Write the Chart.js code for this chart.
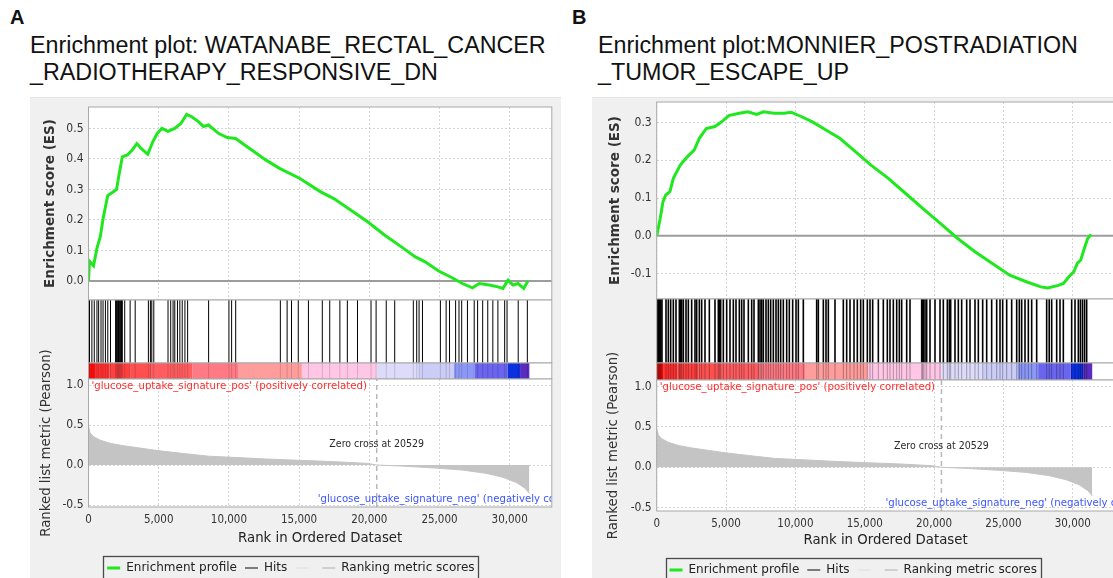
<!DOCTYPE html>
<html>
<head>
<meta charset="utf-8">
<title>Enrichment plots</title>
<script src="https://cdn.jsdelivr.net/npm/chart.js@4.4.1/dist/chart.umd.min.js"></script>
<style>
  html, body { margin: 0; padding: 0; }
  body { position: relative; width: 1113px; height: 578px; overflow: hidden; background: #fff;
         font-family: "Liberation Sans", Arial, sans-serif; color: #111; }
  .letter { position: absolute; font-weight: bold; font-size: 20px; }
  .title { position: absolute; font-size: 23.3px; line-height: 27px; white-space: nowrap; }
  .backdrop { position: absolute; background: #f0f0f0; border-top: 1px solid #e4e4e4; }
  canvas { position: absolute; }
</style>
</head>
<body>
<div class="letter" style="left:10px;top:6px">A</div>
<div class="title" style="left:30px;top:32px">Enrichment plot: WATANABE_RECTAL_CANCER<br>_RADIOTHERAPY_RESPONSIVE_DN</div>
<div class="letter" style="left:572px;top:6px">B</div>
<div class="title" style="left:598px;top:32px">Enrichment plot:MONNIER_POSTRADIATION<br>_TUMOR_ESCAPE_UP</div>
<div class="backdrop" style="left:30px;top:97px;width:531px;height:500px"></div>
<div class="backdrop" style="left:592px;top:97px;width:540px;height:500px"></div>

<script>
// ranked list shared by both plots
const rankTicks = [0, 5000, 10000, 15000, 20000, 25000, 30000];
const rankMax = 33000;
const zeroCross = 20529;
const metricTicks = [-0.5, 0.0, 0.5, 1.0];
const metricRank = [0, 120, 360, 840, 1570, 2530, 3740, 4940, 6630, 8560, 10240, 12650, 15060, 17470,
  19880, 20529, 22290, 24700, 26630, 28320, 29520, 30490, 31090, 31400];
const metricValue = [0.48, 0.40, 0.354, 0.31, 0.27, 0.24, 0.21, 0.18, 0.146, 0.11, 0.096, 0.075, 0.058, 0.042,
  0.02, 0.0, -0.013, -0.038, -0.063, -0.104, -0.154, -0.22, -0.29, -0.354];
const heatEdges = [0, 460, 1500, 3000, 4500, 7400, 10700, 15200, 20530, 23500, 26000, 27500, 29860, 30740, 31400];
const heatColors = ['#ff0d0d', '#ff3030', '#ff4040', '#ff5050', '#ff5d60', '#ff7a84', '#ff9c9c', '#ffc6e6',
  '#dcdcfa', '#cccdf6', '#8c98f7', '#6a64ee', '#0a30e0', '#5a2cc0'];

// A: WATANABE_RECTAL_CANCER_RADIOTHERAPY_RESPONSIVE_DN
const esTicksA = [0.0, 0.1, 0.2, 0.3, 0.4, 0.5];
const esRankA = [0, 70, 360, 600, 840, 1040, 1370, 1690, 2000, 2170, 2410, 2770, 3130, 3450, 3730, 4220, 4580,
  4890, 5230, 5660, 6140, 6580, 6990, 7350, 7830, 8190, 8550, 9280, 9880, 10480, 11450, 12650, 13610, 15060,
  16510, 17470, 18670, 19880, 21080, 22290, 23250, 23980, 24940, 25900, 26630, 27350, 27830, 28550, 29160,
  29520, 29880, 30240, 30600, 31000, 31300];
const esA = [0, 0.065, 0.05, 0.107, 0.145, 0.205, 0.28, 0.29, 0.30, 0.347, 0.407, 0.413, 0.43, 0.45, 0.435,
  0.415, 0.456, 0.483, 0.50, 0.49, 0.50, 0.516, 0.546, 0.538, 0.522, 0.506, 0.511, 0.483, 0.47, 0.467, 0.435,
  0.396, 0.369, 0.336, 0.293, 0.27, 0.233, 0.194, 0.151, 0.112, 0.08, 0.063, 0.033, 0.011, -0.008, -0.022,
  -0.008, -0.013, -0.019, -0.024, 0.003, -0.013, -0.008, -0.024, 0.0];
const hitsA = [72, 241, 410, 603, 723, 892, 1036, 1205, 1374, 1567, 1928, 2000, 2050, 2097, 2140, 2193, 2240,
  2290, 2350, 2410, 2579, 2964, 3326, 4266, 4410, 4507, 4651, 5664, 5856, 6025, 6146, 6338, 6507, 6676, 6869,
  7061, 8556, 10002, 10194, 10484, 13665, 14147, 14460, 14942, 15665, 16653, 17183, 17906, 18437, 19160,
  20124, 20485, 21208, 21811, 23136, 23377, 23546, 23787, 25064, 25474, 25715, 26149, 26390, 26582, 26992,
  27474, 27715, 28077, 28438, 28800, 29161, 29643, 29812, 30607, 31258];

// B: MONNIER_POSTRADIATION_TUMOR_ESCAPE_UP
const esTicksB = [-0.1, 0.0, 0.1, 0.2, 0.3];
const esRankB = [0, 250, 450, 650, 950, 1200, 1450, 1700, 2200, 2700, 3075, 3575, 4200, 4700, 5200, 5950, 6575,
  7200, 7700, 8450, 9200, 9700, 10450, 11200, 12200, 13200, 14200, 15450, 16700, 17950, 19200, 20450, 21700,
  22950, 24200, 25450, 26700, 27700, 28200, 28950, 29325, 29700, 30075, 30325, 30575, 30825, 31075, 31325];
const esB = [0, 0.046, 0.09, 0.108, 0.117, 0.152, 0.17, 0.187, 0.209, 0.227, 0.258, 0.284, 0.289, 0.302, 0.318,
  0.324, 0.328, 0.321, 0.328, 0.324, 0.324, 0.327, 0.315, 0.302, 0.28, 0.258, 0.227, 0.187, 0.152, 0.112,
  0.072, 0.033, -0.007, -0.042, -0.073, -0.104, -0.122, -0.135, -0.138, -0.131, -0.126, -0.109, -0.095,
  -0.073, -0.064, -0.034, -0.007, 0.004];
const hitsB = [46, 120, 180, 238, 300, 382, 671, 839, 1007, 1199, 1392, 1632, 1700, 1800, 1920, 2113, 2281,
  2521, 2761, 2882, 3074, 3242, 3482, 3795, 4203, 4444, 4530, 4612, 4804, 5045, 5285, 5525, 5718, 5958,
  6126, 6294, 6607, 6847, 7015, 7328, 7450, 7568, 7688, 7881, 8049, 8217, 8409, 8602, 8770, 8938, 9130,
  9371, 9563, 9803, 10044, 10212, 10572, 11534, 11654, 12014, 12207, 12375, 12855, 13456, 13697, 13937,
  14225, 14465, 14706, 14898, 15187, 15379, 15571, 15980, 16340, 16628, 16821, 17061, 17302, 17494, 17662,
  18023, 18263, 19104, 19160, 19224, 19344, 19465, 19705, 20065, 20426, 20666, 20954, 21099, 21195, 21507,
  21748, 21988, 22349, 22589, 22949, 23190, 23502, 23791, 24151, 24512, 24752, 24944, 25233, 25593, 25954,
  26146, 26314, 26554, 26795, 27035, 27396, 28117, 28300, 28477, 28838, 29078, 29318, 29919, 30160, 30400,
  30550, 30700, 30850, 31000];

const legendLabels = ['Enrichment profile', 'Hits', '', 'Ranking metric scores'];
const legendColors = ['#1fe81f', '#555555', '#e4e4e4', '#c4c4c4'];
const posLabel = "'glucose_uptake_signature_pos' (positively correlated)";
const negLabel = "'glucose_uptake_signature_neg' (negatively correlated)";

const FONT = "'DejaVu Sans Condensed', 'DejaVu Sans', sans-serif";
const WIDE = "'DejaVu Sans', sans-serif";
const GRID = '#d4d4d4';

const framePlugin = {
  id: 'frame',
  beforeDraw(chart) {
    const { ctx, chartArea: a } = chart;
    ctx.save();
    ctx.fillStyle = '#ffffff';
    ctx.fillRect(a.left, a.top, a.width, a.height);
    ctx.restore();
  },
  afterDraw(chart) {
    const { ctx, chartArea: a } = chart;
    ctx.save();
    ctx.strokeStyle = '#a8a8a8';
    ctx.lineWidth = 1;
    ctx.strokeRect(a.left, a.top, a.width, a.height);
    ctx.restore();
  }
};

const rankLabelsPlugin = {
  id: 'rankLabels',
  afterDatasetsDraw(chart, args, opts) {
    const { ctx, chartArea: a, scales: { x, y } } = chart;
    ctx.save();
    ctx.textBaseline = 'middle';
    ctx.font = '10.5px ' + FONT;
    ctx.fillStyle = '#2a2a2a';
    ctx.textAlign = 'center';
    ctx.fillText('Zero cross at ' + zeroCross, x.getPixelForValue(zeroCross), y.getPixelForValue(0.26));
    ctx.font = '11.3px ' + FONT;
    ctx.textAlign = 'left';
    ctx.fillStyle = '#ff2d2d';
    ctx.fillText(posLabel, a.left + 3, a.top + 7);
    ctx.beginPath();
    ctx.rect(a.left, a.top, a.width, a.height);
    ctx.clip();
    ctx.fillStyle = '#3a55ff';
    ctx.fillText(negLabel, a.right - opts.negInset, a.bottom - 8);
    ctx.restore();
  }
};

const legendBoxPlugin = {
  id: 'legendBox',
  afterDraw(chart) {
    const lg = chart.legend;
    if (!lg || !lg.legendHitBoxes.length) return;
    const boxes = lg.legendHitBoxes;
    const l = Math.min(...boxes.map(b => b.left)) - 4;
    const r = Math.max(...boxes.map(b => b.left + b.width)) + 4;
    const ctx = chart.ctx;
    ctx.save();
    ctx.strokeStyle = '#4a4a4a';
    ctx.lineWidth = 1.3;
    ctx.strokeRect(Math.round(l) + 0.5, Math.round(lg.top + 2) + 0.5, Math.round(r - l), 60);
    ctx.restore();
  }
};

function canvasAt(left, top, w, h) {
  const c = document.createElement('canvas');
  c.width = w;
  c.height = h;
  c.style.left = left + 'px';
  c.style.top = top + 'px';
  document.body.appendChild(c);
  return c.getContext('2d');
}

function rankAxis(withLabels, grid, height) {
  return {
    type: 'linear', min: 0, max: rankMax,
    afterBuildTicks: s => { s.ticks = rankTicks.map(v => ({ value: v })); },
    afterFit: s => { s.height = height; s.paddingLeft = 0; s.paddingRight = 0; },
    grid: { display: grid, color: GRID, drawTicks: false },
    border: { display: false, dash: [2, 2] },
    ticks: {
      display: withLabels, padding: 6, color: '#333', maxRotation: 0,
      font: { family: FONT, size: 11.5 },
      callback: v => v.toLocaleString('en-US')
    },
    title: {
      display: withLabels, text: 'Rank in Ordered Dataset', color: '#222',
      font: { family: WIDE, size: 13.3 }, padding: { top: 0, bottom: 7 }
    }
  };
}

function valueAxis(min, max, ticks, width, title, bold, titlePad) {
  return {
    type: 'linear', min: min, max: max,
    afterBuildTicks: s => { s.ticks = ticks.map(v => ({ value: v })); },
    afterFit: s => { s.width = width; s.paddingTop = 0; s.paddingBottom = 0; },
    grid: { color: GRID, drawTicks: false },
    border: { display: false, dash: [2, 2] },
    ticks: { padding: 5, color: '#333', font: { family: FONT, size: 12 }, callback: v => v.toFixed(1) },
    title: {
      display: true, text: title, color: '#333',
      font: { family: WIDE, size: bold ? 13.5 : 13.3, weight: bold ? 'bold' : 'normal' },
      padding: { top: titlePad, bottom: 0 }
    }
  };
}

const baseOptions = {
  responsive: false, animation: false, events: [],
  plugins: { legend: { display: false }, tooltip: { enabled: false } }
};

function drawPanel(p) {
  const padR = p.left + p.width - p.plotRight;
  const yw = p.plotLeft - p.left;

  // enrichment score
  new Chart(canvasAt(p.left, 97, p.width, p.hitsTop - 97), {
    type: 'line',
    data: {
      datasets: [
        { data: p.esRank.map((r, i) => ({ x: r, y: p.es[i] })), borderColor: legendColors[0],
          borderWidth: 3, pointRadius: 0, tension: 0 },
        { data: [{ x: 0, y: 0 }, { x: rankMax, y: 0 }], borderColor: '#9c9c9c', borderWidth: 2, pointRadius: 0 }
      ]
    },
    options: {
      ...baseOptions,
      layout: { autoPadding: false, padding: { left: 0, right: padR, top: p.esTop - 97, bottom: 0 } },
      scales: {
        x: rankAxis(false, true, 0),
        y: valueAxis(p.esMin, p.esMax, p.esTicks, yw, 'Enrichment score (ES)', true, p.esTitlePad)
      }
    },
    plugins: [framePlugin]
  });

  // hits
  new Chart(canvasAt(p.left, p.hitsTop - 4, p.width, p.barTop - p.hitsTop + 8), {
    type: 'scatter',
    data: {
      datasets: [{
        data: p.hits.map(r => ({ x: r, y: 0.5 })), pointStyle: 'line', rotation: 90,
        pointRadius: (p.barTop - p.hitsTop) / 2, borderColor: '#000', borderWidth: p.hitWidth
      }]
    },
    options: {
      ...baseOptions,
      layout: { autoPadding: false, padding: { left: yw, right: padR, top: 4, bottom: 4 } },
      scales: {
        x: rankAxis(false, false, 0),
        y: { display: false, min: 0, max: 1 }
      }
    },
    plugins: [framePlugin]
  });

  // colour bar of the ranked list, hits showing faintly through it
  const barH = p.barBottom - p.barTop;
  const barSets = heatColors.map((c, i) => ({
    type: 'line', data: [{ x: heatEdges[i], y: 0.5 }, { x: heatEdges[i + 1], y: 0.5 }],
    borderColor: c, borderWidth: barH, borderCapStyle: 'butt', pointRadius: 0
  }));
  new Chart(canvasAt(p.left, p.barTop - 4, p.width, barH + 8), {
    type: 'scatter',
    data: {
      datasets: [{
        data: p.hits.map(r => ({ x: r, y: 0.5 })), pointStyle: 'line', rotation: 90,
        pointRadius: barH / 2, borderColor: 'rgba(0,0,0,' + p.overlayAlpha + ')', borderWidth: 1
      }].concat(barSets)
    },
    options: {
      ...baseOptions,
      layout: { autoPadding: false, padding: { left: yw, right: padR, top: 4, bottom: 4 } },
      scales: {
        x: rankAxis(false, false, 0),
        y: { display: false, min: 0, max: 1 }
      }
    },
    plugins: [framePlugin]
  });

  // ranked list metric + x axis + legend (canvas starts higher so the long axis title fits)
  const extraTop = 40;
  new Chart(canvasAt(p.left, p.barBottom - extraTop, p.width, extraTop + (p.rankBottom - p.barBottom) + p.axisH + 30), {
    type: 'line',
    data: {
      datasets: [
        { data: [{ x: zeroCross, y: p.metricMin }, { x: zeroCross, y: p.metricMax }], borderColor: '#b8b8b8',
          borderWidth: 1.5, borderDash: [5, 4], pointRadius: 0 },
        { data: metricRank.map((r, i) => ({ x: r, y: metricValue[i] })), borderColor: legendColors[3],
          backgroundColor: legendColors[3], borderWidth: 1, fill: 'origin', pointRadius: 0, tension: 0 }
      ]
    },
    options: {
      ...baseOptions,
      layout: { autoPadding: false, padding: { left: 0, right: padR, top: extraTop, bottom: 0 } },
      plugins: {
        tooltip: { enabled: false },
        rankLabels: { negInset: p.negInset },
        legend: {
          display: true, position: 'bottom',
          labels: {
            usePointStyle: true, pointStyleWidth: 13, padding: 8, color: '#222',
            font: { family: WIDE, size: 12 },
            generateLabels: () => legendLabels.map((t, i) => ({
              text: t, strokeStyle: legendColors[i], fillStyle: legendColors[i],
              lineWidth: i === 0 ? 3 : 1.3, pointStyle: 'line', hidden: false, fontColor: '#222'
            }))
          }
        }
      },
      scales: {
        x: rankAxis(true, true, p.axisH),
        y: valueAxis(p.metricMin, p.metricMax, metricTicks, yw, 'Ranked list metric (Pearson)', false, p.metricTitlePad)
      }
    },
    plugins: [framePlugin, rankLabelsPlugin, legendBoxPlugin]
  });
}

drawPanel({
  left: 30, width: 530, plotLeft: 88.5, plotRight: 551.8,
  esTop: 107, hitsTop: 300, barTop: 363, barBottom: 379, rankBottom: 507, axisH: 47,
  esMin: -0.062, esMax: 0.570, metricMin: -0.525, metricMax: 1.075,
  esTitlePad: 11.9, metricTitlePad: 9, negInset: 234,
  esRank: esRankA, es: esA, esTicks: esTicksA, hits: hitsA, hitWidth: 1, overlayAlpha: 0.15
});

drawPanel({
  left: 592, width: 531, plotLeft: 656.7, plotRight: 1114.4,
  esTop: 102, hitsTop: 299, barTop: 363, barBottom: 380, rankBottom: 511, axisH: 45,
  esMin: -0.167, esMax: 0.354, metricMin: -0.542, metricMax: 1.083,
  esTitlePad: 14.9, metricTitlePad: 14, negInset: 229,
  esRank: esRankB, es: esB, esTicks: esTicksB, hits: hitsB, hitWidth: 1.6, overlayAlpha: 0.3
});
</script>
</body>
</html>
